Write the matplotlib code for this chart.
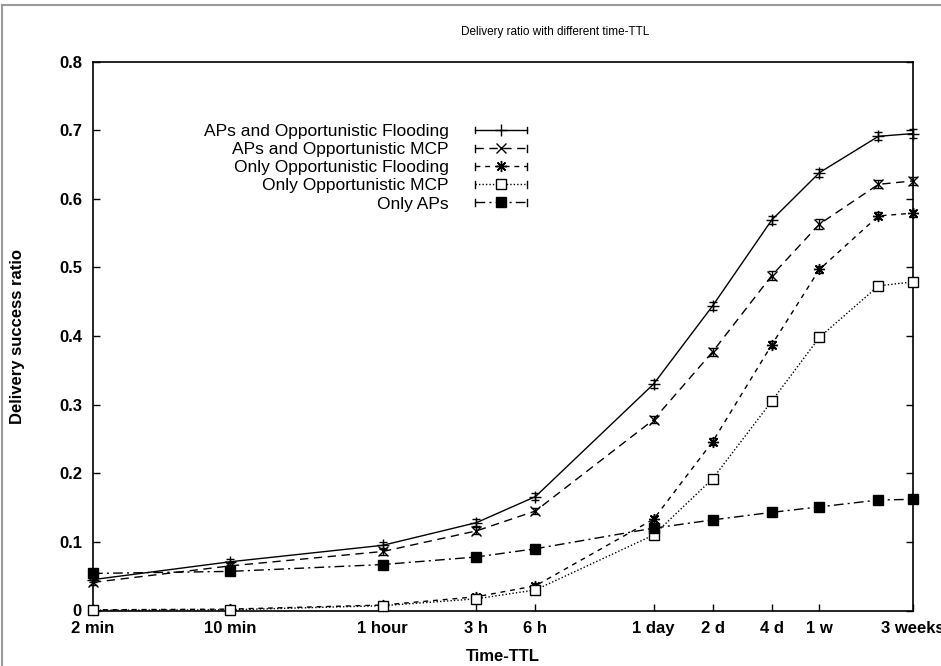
import matplotlib
matplotlib.use("Agg")
import matplotlib.pyplot as plt
from matplotlib.legend_handler import HandlerLine2D
from matplotlib.lines import Line2D
from matplotlib.ticker import FixedLocator, FixedFormatter, NullLocator

# TTL values (minutes) at which each protocol was measured
ttl_minutes = [2, 10, 60, 180, 360, 1440, 2880, 5760, 10080, 20160, 30240]
tick_minutes = [2, 10, 60, 180, 360, 1440, 2880, 5760, 10080, 30240]
tick_labels = ["2 min", "10 min", "1 hour", "3 h", "6 h", "1 day", "2 d", "4 d", "1 w", "3 weeks"]

series_names = [
    "APs and Opportunistic Flooding",
    "APs and Opportunistic MCP",
    "Only Opportunistic Flooding",
    "Only Opportunistic MCP",
    "Only APs",
]

aps_flooding = [0.045, 0.071, 0.095, 0.128, 0.166, 0.330, 0.444, 0.569, 0.638, 0.691, 0.695]
aps_flooding_err = [0.004, 0.004, 0.005, 0.005, 0.005, 0.006, 0.006, 0.006, 0.006, 0.006, 0.006]

aps_mcp = [0.041, 0.065, 0.086, 0.116, 0.145, 0.278, 0.377, 0.488, 0.563, 0.621, 0.626]
aps_mcp_err = [0.004, 0.004, 0.005, 0.005, 0.005, 0.005, 0.006, 0.007, 0.007, 0.006, 0.006]

only_flooding = [0.001, 0.002, 0.008, 0.020, 0.036, 0.133, 0.246, 0.387, 0.497, 0.575, 0.579]
only_flooding_err = [0.001, 0.002, 0.003, 0.004, 0.004, 0.005, 0.005, 0.005, 0.005, 0.005, 0.005]

only_mcp = [0.0005, 0.001, 0.007, 0.017, 0.030, 0.110, 0.192, 0.305, 0.398, 0.473, 0.479]
only_mcp_err = [0.001, 0.002, 0.003, 0.004, 0.004, 0.005, 0.005, 0.005, 0.005, 0.005, 0.005]

only_aps = [0.054, 0.057, 0.067, 0.078, 0.090, 0.120, 0.132, 0.143, 0.151, 0.161, 0.162]
only_aps_err = [0.003, 0.003, 0.003, 0.003, 0.003, 0.003, 0.003, 0.003, 0.003, 0.003, 0.003]

values = [aps_flooding, aps_mcp, only_flooding, only_mcp, only_aps]
errors = [aps_flooding_err, aps_mcp_err, only_flooding_err, only_mcp_err, only_aps_err]

styles = [
    dict(linestyle="-", marker="+", markersize=8, mfc="black"),
    dict(linestyle=(0, (6, 4)), marker="x", markersize=7.5, mfc="black"),
    dict(linestyle=(0, (3.5, 3.5)), marker=(8, 2, 0), markersize=8, mfc="black"),
    dict(linestyle=(0, (1, 1.5)), marker="s", markersize=6.5, mfc="white"),
    dict(linestyle=(0, (7, 3, 1.5, 3)), marker="s", markersize=7.5, mfc="black"),
]

plt.rcParams["font.family"] = ["Liberation Sans", "DejaVu Sans"]

fig = plt.figure(figsize=(9.41, 6.66), dpi=100)
ax = fig.add_axes([93 / 941, 1 - 610.5 / 666, 820 / 941, 549 / 666])

for vals, errs, st in zip(values, errors, styles):
    ax.errorbar(
        ttl_minutes, vals, yerr=errs,
        color="black", linewidth=1.0, ecolor="black", elinewidth=1.0,
        capsize=3, capthick=1.0, markeredgecolor="black",
        markeredgewidth=1.0, clip_on=False, zorder=3, **st,
    )

ax.set_xscale("log")
ax.set_xlim(2, 30240)
ax.set_ylim(0, 0.8)
ax.xaxis.set_major_locator(FixedLocator(tick_minutes))
ax.xaxis.set_major_formatter(FixedFormatter(tick_labels))
ax.xaxis.set_minor_locator(NullLocator())
ax.set_yticks([0, 0.1, 0.2, 0.3, 0.4, 0.5, 0.6, 0.7, 0.8])
ax.set_yticklabels(["0", "0.1", "0.2", "0.3", "0.4", "0.5", "0.6", "0.7", "0.8"])

ax.tick_params(axis="both", direction="in", length=5, width=1, labelsize=12, colors="black")
ax.tick_params(axis="y", right=True, pad=8)
ax.tick_params(axis="x", top=False, pad=7.5)
for lab in ax.get_xticklabels() + ax.get_yticklabels():
    lab.set_fontweight("bold")
for sp in ax.spines.values():
    sp.set_linewidth(1.2)

ax.set_xlabel("Time-TTL", fontsize=12, fontweight="bold")
ax.set_ylabel("Delivery success ratio", fontsize=12, fontweight="bold")
ax.xaxis.set_label_coords(0.5, -0.070)
ax.yaxis.set_label_coords(-0.0825, 0.5)

fig.text(555 / 941, 1 - 31.5 / 666, "Delivery ratio with different time-TTL",
         ha="center", va="center", fontsize=8.5)


class CappedLineHandler(HandlerLine2D):
    """Legend sample with short vertical caps at both ends of the line."""

    def create_artists(self, legend, orig_handle, xdescent, ydescent,
                       width, height, fontsize, trans):
        artists = super().create_artists(legend, orig_handle, xdescent, ydescent,
                                          width, height, fontsize, trans)
        yc = (height - ydescent) / 2
        half = 0.28 * height
        for x in (-xdescent, -xdescent + width):
            cap = Line2D([x, x], [yc - half, yc + half], color="black",
                         linewidth=1.0, transform=trans)
            artists.append(cap)
        return artists


handles = [
    Line2D([], [], color="black", linewidth=1.0, markeredgecolor="black",
           markeredgewidth=1.0, **st)
    for st in styles
]
ax.legend(
    handles, series_names, loc="upper right",
    bbox_to_anchor=(527 / 941, 1 - 124 / 666), bbox_transform=fig.transFigure,
    frameon=False, markerfirst=False, numpoints=1, fontsize=12.5,
    handlelength=3.0, handletextpad=1.5, labelspacing=0.17,
    borderpad=0, borderaxespad=0,
    handler_map={Line2D: CappedLineHandler()},
)

# light grey page frame along the left and top edges
fig.add_artist(Line2D([2 / 941, 2 / 941], [0, 1 - 5 / 666], transform=fig.transFigure,
                      color="#9a9a9a", linewidth=1.5))
fig.add_artist(Line2D([2 / 941, 1], [1 - 5 / 666, 1 - 5 / 666], transform=fig.transFigure,
                      color="#9a9a9a", linewidth=1.5))

fig.savefig("out.png", dpi=100)
